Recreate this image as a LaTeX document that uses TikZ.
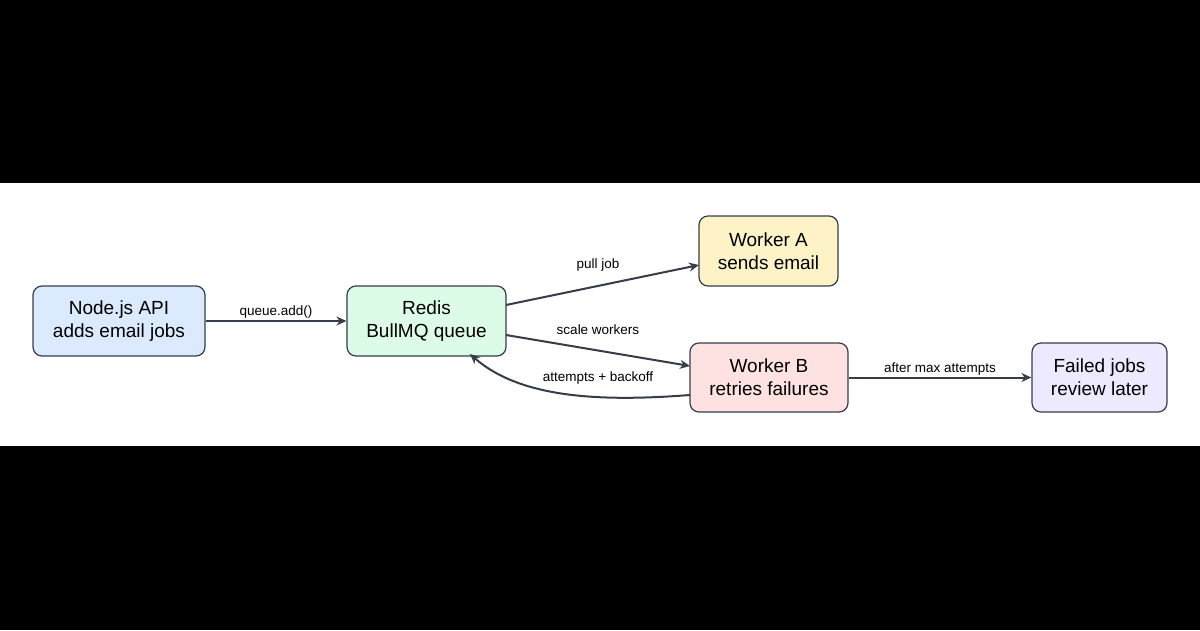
\documentclass[tikz,border=0pt]{standalone}
\usepackage{fontspec}
\setmainfont{Liberation Sans}
\usetikzlibrary{arrows.meta}
\definecolor{ln}{HTML}{363D4A}
\begin{document}
\begin{tikzpicture}[x=1pt,y=-1pt,
 box/.style={draw=ln,line width=1.2pt,rounded corners=9pt,align=center,font=\fontsize{19}{23}\selectfont,inner sep=0pt},
 arr/.style={draw=ln,line width=2pt,-{Stealth[length=10pt,width=9pt]}},
 lab/.style={font=\fontsize{13.5}{16}\selectfont}]
\fill[black] (0,0) rectangle (1200,630);
\fill[white] (0,183) rectangle (1200,446);
\node[box,fill={rgb,255:red,219;green,234;blue,254},minimum width=172pt,minimum height=70pt] (api) at (119,321) {Node.js API\\adds email jobs};
\node[box,fill={rgb,255:red,220;green,252;blue,231},minimum width=159pt,minimum height=70pt] (redis) at (426.5,321) {Redis\\BullMQ queue};
\node[box,fill={rgb,255:red,254;green,243;blue,199},minimum width=139pt,minimum height=70pt] (wa) at (768.5,251) {Worker A\\sends email};
\node[box,fill={rgb,255:red,254;green,226;blue,226},minimum width=158pt,minimum height=69pt] (wb) at (769,377.5) {Worker B\\retries failures};
\node[box,fill={rgb,255:red,237;green,233;blue,254},minimum width=135pt,minimum height=69pt] (fj) at (1099.5,377.5) {Failed jobs\\review later};
\draw[arr] (api.east) -- (redis.west);
\node[lab] (l1) at (276,312) {queue.add()};
\coordinate (r1) at (506,305);
\coordinate (a1) at (699,265);
\draw[arr] (r1) -- (a1);
\node[lab] (l2) at (598,265) {pull job};
\coordinate (r2) at (506,335);
\coordinate (b1) at (690,366);
\draw[arr] (r2) -- (b1);
\node[lab] (l3) at (598,330) {scale workers};
\coordinate (b2) at (690,395);
\coordinate (r3) at (470,354);
\draw[arr] (b2) .. controls (600,402) and (520,398) .. (r3);
\node[lab] (l4) at (598,378) {attempts + backoff};
\draw[arr] (wb.east) -- (fj.west);
\node[lab] (l5) at (940,369) {after max attempts};
\end{tikzpicture}
\end{document}
